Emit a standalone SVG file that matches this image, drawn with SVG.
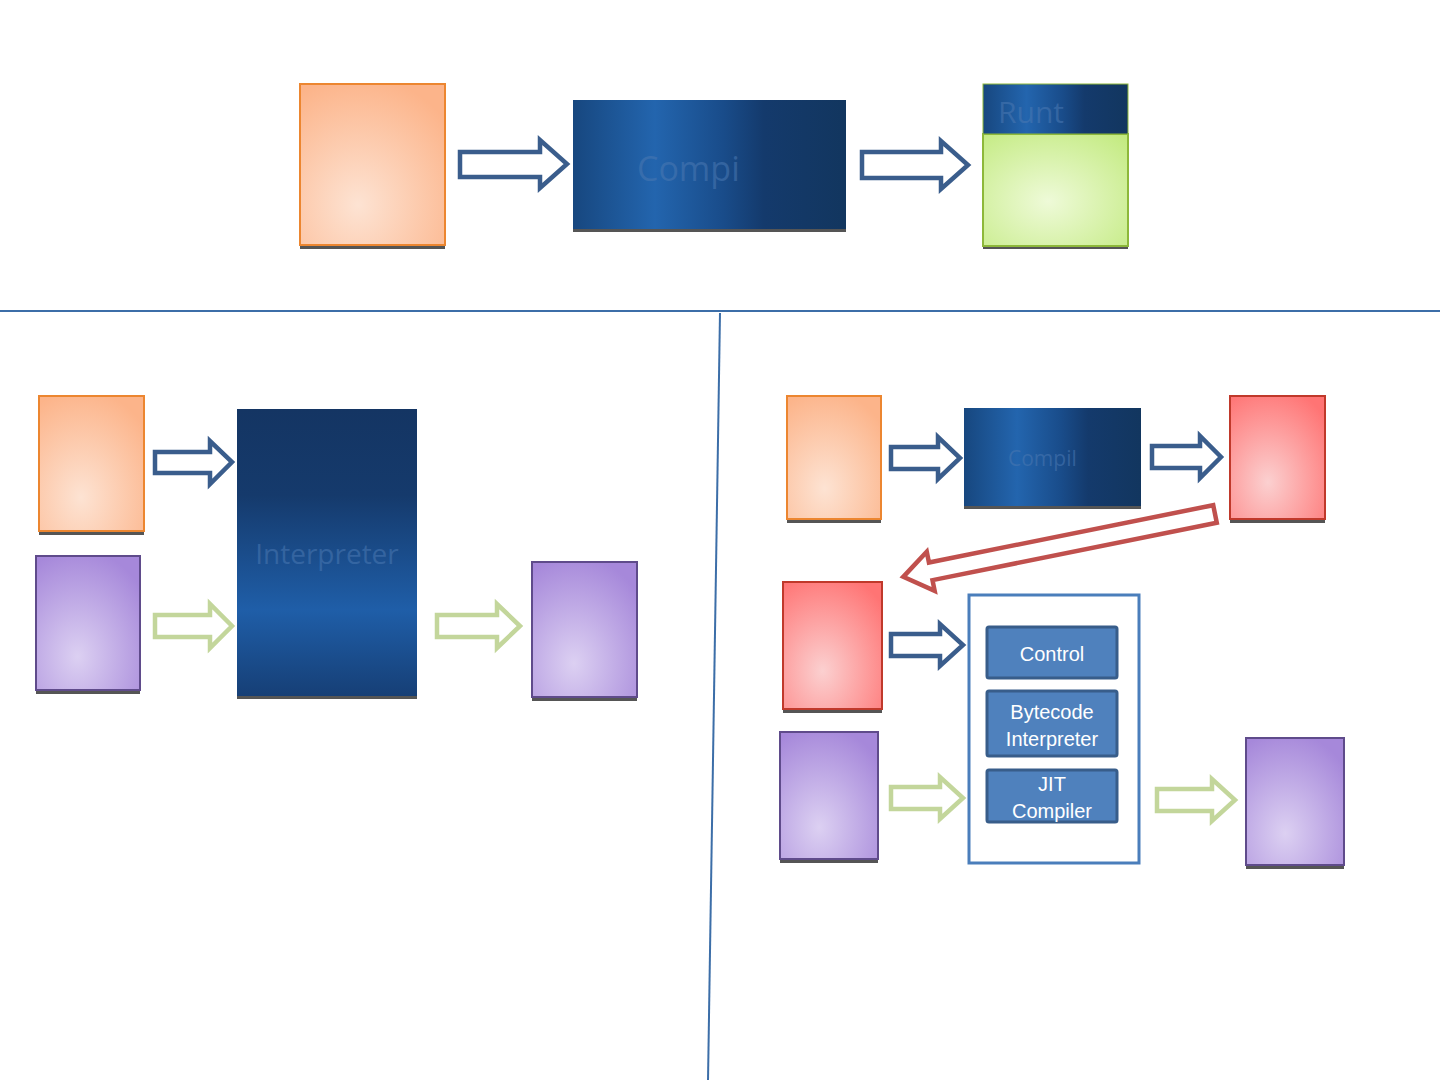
<svg xmlns="http://www.w3.org/2000/svg" width="1440" height="1080" viewBox="0 0 1440 1080">
<defs>
<radialGradient id="gOr" cx="0.4" cy="0.75" r="0.8"><stop offset="0" stop-color="#FDE3D3"/><stop offset="1" stop-color="#FCB48A"/></radialGradient>
<radialGradient id="gPu" cx="0.4" cy="0.75" r="0.8"><stop offset="0" stop-color="#DCD0F2"/><stop offset="1" stop-color="#A688DA"/></radialGradient>
<radialGradient id="gRe" cx="0.4" cy="0.7" r="0.8"><stop offset="0" stop-color="#FBD0D0"/><stop offset="1" stop-color="#FF7474"/></radialGradient>
<radialGradient id="gGr" cx="0.45" cy="0.6" r="0.8"><stop offset="0" stop-color="#EEFAD8"/><stop offset="1" stop-color="#C2EA7E"/></radialGradient>
<linearGradient id="gBlH" x1="0" y1="0" x2="1" y2="0"><stop offset="0" stop-color="#17477F"/><stop offset="0.3" stop-color="#2365AE"/><stop offset="0.55" stop-color="#194C8A"/><stop offset="0.7" stop-color="#143A6C"/><stop offset="1" stop-color="#12365F"/></linearGradient>
<linearGradient id="gBlV" x1="0" y1="0" x2="0" y2="1"><stop offset="0" stop-color="#143563"/><stop offset="0.3" stop-color="#153A6C"/><stop offset="0.7" stop-color="#1F5EA8"/><stop offset="1" stop-color="#163F76"/></linearGradient>
<style>
.sh{fill:#555;}
.or{fill:url(#gOr);stroke:#EC8630;stroke-width:2;}
.pu{fill:url(#gPu);stroke:#5F4B8B;stroke-width:2;}
.re{fill:url(#gRe);stroke:#C0392B;stroke-width:2;}
.ab{fill:#fff;stroke:#3A5D8C;stroke-width:4.5;stroke-linejoin:miter;}
.ag{fill:#fff;stroke:#C3D69B;stroke-width:4.5;}
.ar{fill:#fff;stroke:#C0504D;stroke-width:4.5;}
.fade{font-family:"Open Sans","Liberation Sans",sans-serif;fill:#4A78B2;opacity:0.55;}
.inner{fill:#4F81BD;stroke:#385D8A;stroke-width:3;}
.lbl{font-family:"Liberation Sans",Arial,sans-serif;font-size:20px;fill:#fff;text-anchor:middle;}
.div{stroke:#3C6EA8;stroke-width:2;fill:none;}
</style>
</defs>
<rect width="1440" height="1080" fill="#fff"/>
<g id="dividers">
<line class="div" x1="0" y1="311" x2="1440" y2="311"/>
<line class="div" x1="720" y1="313" x2="708" y2="1080"/>
</g>
<g id="top-source"><rect class="sh" x="300" y="88" width="145" height="161"/><rect class="or" x="300" y="84" width="145" height="161"/></g>
<g id="top-compiler"><rect class="sh" x="573" y="104" width="273" height="128"/><rect x="573" y="100" width="273" height="129" fill="url(#gBlH)"/><text class="fade" x="637" y="181" font-size="34">Compi</text></g>
<g id="top-runtime"><rect class="sh" x="983" y="88" width="145" height="161"/><rect x="983" y="134" width="145" height="112" fill="url(#gGr)" stroke="#8DB83A" stroke-width="2"/><rect x="983" y="84" width="145" height="50" fill="url(#gBlH)" stroke="#8DB83A" stroke-width="1"/><text class="fade" x="998" y="123" font-size="30">Runt</text></g>
<g id="bl-source"><rect class="sh" x="39" y="400" width="105" height="135"/><rect class="or" x="39" y="396" width="105" height="135"/></g>
<g id="bl-input"><rect class="sh" x="36" y="560" width="104" height="134"/><rect class="pu" x="36" y="556" width="104" height="134"/></g>
<g id="bl-interpreter"><rect class="sh" x="237" y="413" width="180" height="286"/><rect x="237" y="409" width="180" height="287" fill="url(#gBlV)"/><text class="fade" x="327" y="564" font-size="28" text-anchor="middle">Interpreter</text></g>
<g id="bl-output"><rect class="sh" x="532" y="566" width="105" height="135"/><rect class="pu" x="532" y="562" width="105" height="135"/></g>
<g id="br-source"><rect class="sh" x="787" y="400" width="94" height="123"/><rect class="or" x="787" y="396" width="94" height="123"/></g>
<g id="br-compiler"><rect class="sh" x="964" y="412" width="177" height="97"/><rect x="964" y="408" width="177" height="98" fill="url(#gBlH)"/><text class="fade" x="1008" y="466" font-size="21">Compil</text></g>
<g id="br-bytecode"><rect class="sh" x="1230" y="400" width="95" height="123"/><rect class="re" x="1230" y="396" width="95" height="123"/></g>
<g id="br-bytecode2"><rect class="sh" x="783" y="586" width="99" height="127"/><rect class="re" x="783" y="582" width="99" height="127"/></g>
<g id="br-input"><rect class="sh" x="780" y="736" width="98" height="127"/><rect class="pu" x="780" y="732" width="98" height="127"/></g>
<g id="br-vm">
<rect x="969" y="595" width="170" height="268" fill="#fff" stroke="#4A7EBB" stroke-width="3"/>
<rect class="inner" x="987" y="627" width="130" height="51" rx="2"/><text class="lbl" x="1052" y="661">Control</text>
<rect class="inner" x="987" y="691" width="130" height="65" rx="2"/><text class="lbl" x="1052" y="719">Bytecode</text><text class="lbl" x="1052" y="746">Interpreter</text>
<rect class="inner" x="987" y="770" width="130" height="52" rx="2"/><text class="lbl" x="1052" y="791">JIT</text><text class="lbl" x="1052" y="818">Compiler</text>
</g>
<g id="br-output"><rect class="sh" x="1246" y="742" width="98" height="127"/><rect class="pu" x="1246" y="738" width="98" height="127"/></g>
<g id="connectors">
<polygon class="ab" points="460,152 540,152 540,140 567,164 540,188 540,177 460,177"/>
<polygon class="ab" points="862,152 941,152 941,141 968,165 941,189 941,178 862,178"/>
<polygon class="ab" points="155,452 210,452 210,441 232,462 210,484 210,473 155,473"/>
<polygon class="ag" points="155,615 210,615 210,604 232,626 210,648 210,637 155,637"/>
<polygon class="ag" points="437,615 497,615 497,604 520,626 497,648 497,637 437,637"/>
<polygon class="ab" points="891,447 938,447 938,437 960,458 938,479 938,469 891,469"/>
<polygon class="ab" points="1152,446 1200,446 1200,436 1221,457 1200,478 1200,468 1152,468"/>
<polygon class="ab" points="891,634 940,634 940,624 963,645 940,666 940,656 891,656"/>
<polygon class="ag" points="891,787 940,787 940,777 963,798 940,819 940,809 891,809"/>
<polygon class="ag" points="1157,789 1212,789 1212,779 1235,800 1212,821 1212,811 1157,811"/>
<polygon class="ar" transform="translate(1215,514) rotate(168.6)" points="0,-9 290,-9 290,-20 318,0 290,20 290,9 0,9"/>
</g>
</svg>
